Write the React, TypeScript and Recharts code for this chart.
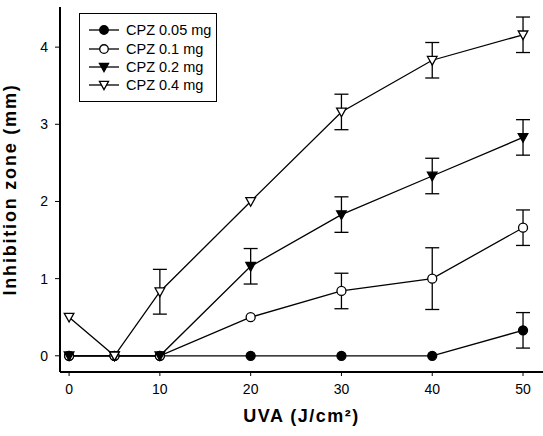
import { LineChart, Line, XAxis, YAxis, ErrorBar, Legend } from "recharts";

const uva = [0, 5, 10, 20, 30, 40, 50];

const cpz005 = [0, 0, 0, 0, 0, 0, 0.33];
const cpz005Err = [null, null, null, null, null, null, 0.23];
const cpz01 = [0, 0, 0, 0.5, 0.84, 1.0, 1.66];
const cpz01Err = [null, null, null, null, 0.23, 0.4, 0.23];
const cpz02 = [0, 0, 0, 1.16, 1.83, 2.33, 2.83];
const cpz02Err = [null, null, null, 0.23, 0.23, 0.23, 0.23];
const cpz04 = [0.5, 0, 0.83, 2.0, 3.16, 3.83, 4.16];
const cpz04Err = [null, null, 0.29, null, 0.23, 0.23, 0.23];

const xTicks = [0, 10, 20, 30, 40, 50];
const yTicks = [0, 1, 2, 3, 4];

const data = uva.map((x, i) => ({
  x,
  a: cpz005[i],
  ae: cpz005Err[i],
  b: cpz01[i],
  be: cpz01Err[i],
  c: cpz02[i],
  ce: cpz02Err[i],
  d: cpz04[i],
  de: cpz04Err[i],
}));

const font = "'Liberation Sans', Arial, sans-serif";

type Kind = "filledCircle" | "openCircle" | "filledTri" | "openTri";

function Marker({ cx, cy, kind, s = 1 }: { cx: number; cy: number; kind: Kind; s?: number }) {
  if (kind === "filledCircle" || kind === "openCircle") {
    return (
      <circle
        cx={cx}
        cy={cy}
        r={4.5 * s}
        fill={kind === "filledCircle" ? "#000" : "#fff"}
        stroke="#000"
        strokeWidth={1.3}
      />
    );
  }
  const pts = `${cx - 4.8 * s},${cy - 3.8 * s} ${cx + 4.8 * s},${cy - 3.8 * s} ${cx},${cy + 4.8 * s}`;
  return (
    <polygon
      points={pts}
      fill={kind === "filledTri" ? "#000" : "#fff"}
      stroke="#000"
      strokeWidth={1.3}
      strokeLinejoin="miter"
    />
  );
}

const dotFor = (kind: Kind) => (p: any) =>
  p.cx == null ? <g key={p.index} /> : <Marker key={p.index} cx={p.cx} cy={p.cy} kind={kind} />;

const legendItems: { label: string; kind: Kind }[] = [
  { label: "CPZ 0.05 mg", kind: "filledCircle" },
  { label: "CPZ 0.1 mg", kind: "openCircle" },
  { label: "CPZ 0.2 mg", kind: "filledTri" },
  { label: "CPZ 0.4 mg", kind: "openTri" },
];

function LegendBox() {
  return (
    <div
      style={{
        border: "1.5px solid #000",
        background: "#fff",
        width: 138,
        height: 89,
        boxSizing: "border-box",
        paddingTop: 7,
        fontFamily: font,
        fontSize: 14.5,
      }}
    >
      {legendItems.map((it) => (
        <div key={it.label} style={{ display: "flex", alignItems: "center", height: 18.4 }}>
          <svg width={46} height={14} style={{ marginLeft: 7 }}>
            <line x1={2} y1={7} x2={32} y2={7} stroke="#000" strokeWidth={1.3} />
            <Marker cx={17} cy={7} kind={it.kind} s={0.95} />
          </svg>
          <span style={{ marginLeft: -7 }}>{it.label}</span>
        </div>
      ))}
    </div>
  );
}

export default function App() {
  return (
    <div style={{ position: "absolute", left: 0, top: 0, background: "#fff" }}>
      <LineChart width={543} height={436} data={data} margin={{ top: 7, right: 0, bottom: 0, left: 0 }}>
        <XAxis
          dataKey="x"
          type="number"
          domain={[-1, 52.2]}
          ticks={xTicks}
          allowDataOverflow
          axisLine={{ stroke: "#000", strokeWidth: 2 }}
          tickLine={{ stroke: "#000", strokeWidth: 1 }}
          tickSize={4}
          tickMargin={8}
          tick={{ fill: "#000", fontSize: 14, fontFamily: font }}
          height={64}
          label={{
            value: "UVA (J/cm²)",
            position: "insideBottom",
            offset: 14,
            fill: "#000",
            fontSize: 18,
            fontWeight: "bold",
            fontFamily: font,
            letterSpacing: 1.5,
          }}
        />
        <YAxis
          type="number"
          domain={[-0.21, 4.52]}
          ticks={yTicks}
          allowDataOverflow
          width={60}
          axisLine={{ stroke: "#000", strokeWidth: 2 }}
          tickLine={{ stroke: "#000", strokeWidth: 1 }}
          tickSize={5}
          tickMargin={7}
          tick={{ fill: "#000", fontSize: 14, fontFamily: font }}
          label={{
            value: "Inhibition zone (mm)",
            angle: -90,
            position: "insideLeft",
            offset: 10,
            fill: "#000",
            fontSize: 18,
            fontWeight: "bold",
            fontFamily: font,
            letterSpacing: 1.8,
            style: { textAnchor: "middle" },
          }}
        />
        <Legend
          layout="horizontal"
          verticalAlign="middle"
          align="center"
          wrapperStyle={{ left: 79, top: 13, width: 138 }}
          content={() => <LegendBox />}
        />
        <Line dataKey="a" stroke="#000" strokeWidth={1.3} dot={dotFor("filledCircle")} isAnimationActive={false}>
          <ErrorBar dataKey="ae" width={7} stroke="#000" strokeWidth={1.3} />
        </Line>
        <Line dataKey="b" stroke="#000" strokeWidth={1.3} dot={dotFor("openCircle")} isAnimationActive={false}>
          <ErrorBar dataKey="be" width={7} stroke="#000" strokeWidth={1.3} />
        </Line>
        <Line dataKey="c" stroke="#000" strokeWidth={1.3} dot={dotFor("filledTri")} isAnimationActive={false}>
          <ErrorBar dataKey="ce" width={7} stroke="#000" strokeWidth={1.3} />
        </Line>
        <Line dataKey="d" stroke="#000" strokeWidth={1.3} dot={dotFor("openTri")} isAnimationActive={false}>
          <ErrorBar dataKey="de" width={7} stroke="#000" strokeWidth={1.3} />
        </Line>
      </LineChart>
    </div>
  );
}
